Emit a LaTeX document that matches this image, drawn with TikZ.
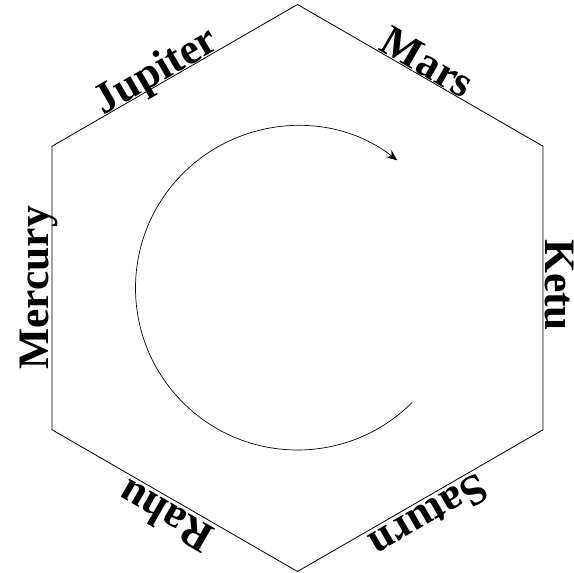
\documentclass[tikz,border=0pt]{standalone}
\usepackage{fontspec}
\setmainfont{Liberation Serif}
\usepackage{tikz}
\usetikzlibrary{arrows.meta,calc}
\tikzset{
  hexedge/.style={draw=black, line width=0.8pt, line join=miter},
  planet/.style={font=\fontsize{43.5}{48}\selectfont\bfseries, inner sep=0pt, anchor=base},
  turn/.style={-{Stealth[length=11pt, width=9pt, inset=4pt]}, line width=0.7pt}
}
\begin{document}
\begin{tikzpicture}
\useasboundingbox (-297.5pt,-285pt) rectangle (276.5pt,288pt);
\foreach \i/\a in {1/90,2/30,3/-30,4/-90,5/-150,6/150}
  \coordinate (v\i) at (\a:283.5pt);
\draw[hexedge] (v1) -- (v2) -- (v3) -- (v4) -- (v5) -- (v6) -- cycle;
% labels sit outside each side, read clockwise
\foreach \a/\b/\p/\g/\r/\name/\txt in {v1/v2/.5/1/-30/mars/Mars, v2/v3/.49/2.5/-90/ketu/Ketu, v3/v4/.5/4/210/saturn/Saturn, v4/v5/.5/4/150/rahu/Rahu, v5/v6/.5/3/90/mercury/Mercury, v6/v1/.45/1/30/jupiter/Jupiter}
  \node[planet, rotate=\r] (\name) at ($(\a)!\p!(\b)!\g pt!90:(\b)$) {\txt};
\coordinate (hub) at (0pt,0pt);
\coordinate (turnstart) at ($(hub)+(-45:162pt)$);
\draw[turn] (turnstart) arc[start angle=-45, end angle=-308, radius=162pt];
\end{tikzpicture}
\end{document}
